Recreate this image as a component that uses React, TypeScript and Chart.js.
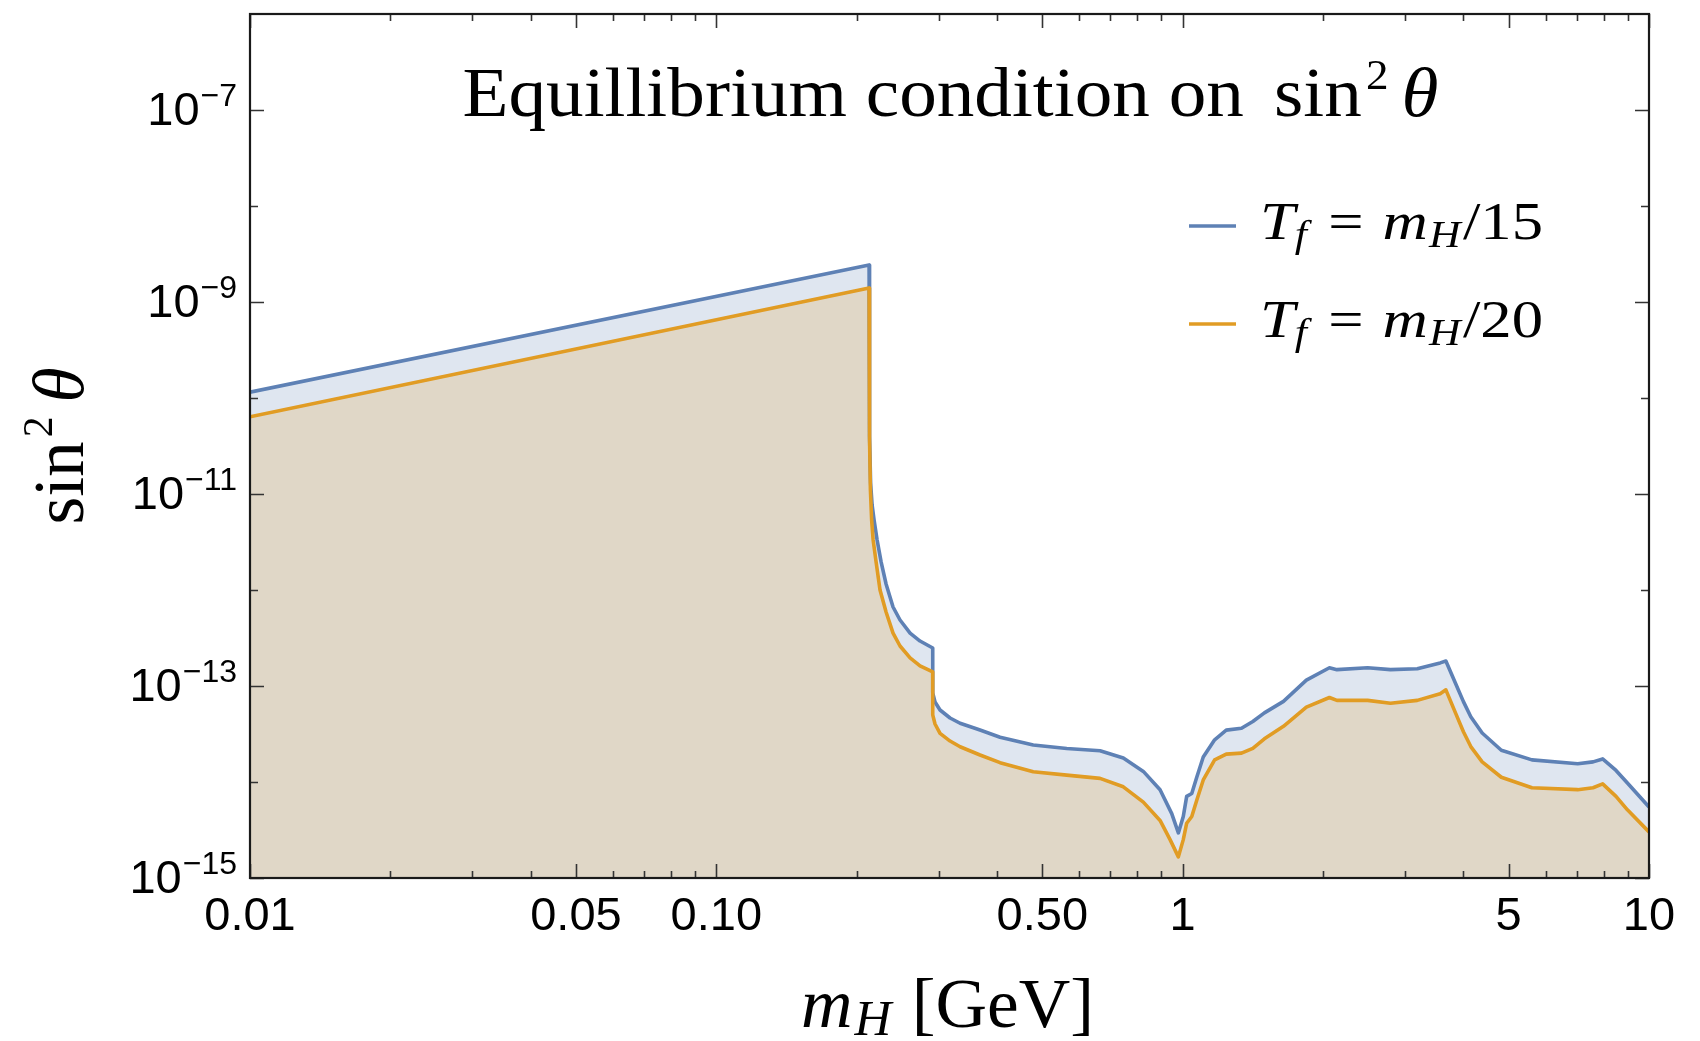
import React, { useEffect, useRef } from 'react';
import { Chart, registerables } from 'chart.js';

Chart.register(...registerables);

// ---------- data ----------
const massBlue = [0.01, 0.2126, 0.2131, 0.2142, 0.2158, 0.2179, 0.2212, 0.2256, 0.2312, 0.2393, 0.2477, 0.2603, 0.2734, 0.2911, 0.2911, 0.2944, 0.3018, 0.3171, 0.3332, 0.3677, 0.4059, 0.4782, 0.5641, 0.665, 0.746, 0.8235, 0.8944, 0.9475, 0.979, 1.003, 1.02, 1.046, 1.072, 1.107, 1.171, 1.24, 1.337, 1.414, 1.497, 1.645, 1.842, 2.064, 2.142, 2.492, 2.79, 3.185, 3.566, 3.668, 3.846, 4.0, 4.148, 4.388, 4.823, 5.61, 7.032, 7.586, 7.954, 8.497, 8.989, 10];
const sinBlue = [1.15e-10, 2.43e-9, 4.0e-11, 1.3e-11, 7.68e-12, 5.36e-12, 3.32e-12, 1.96e-12, 1.155e-12, 6.65e-13, 4.87e-13, 3.56e-13, 2.94e-13, 2.49e-13, 8.45e-14, 6.81e-14, 5.62e-14, 4.64e-14, 4.09e-14, 3.48e-14, 2.93e-14, 2.43e-14, 2.23e-14, 2.12e-14, 1.78e-14, 1.29e-14, 8.32e-15, 4.68e-15, 2.95e-15, 4.37e-15, 7.08e-15, 7.59e-15, 1.12e-14, 1.82e-14, 2.75e-14, 3.47e-14, 3.63e-14, 4.27e-14, 5.25e-14, 6.92e-14, 1.15e-13, 1.55e-13, 1.48e-13, 1.55e-13, 1.48e-13, 1.51e-13, 1.74e-13, 1.82e-13, 1.07e-13, 6.87e-14, 4.79e-14, 3.24e-14, 2.14e-14, 1.7e-14, 1.55e-14, 1.62e-14, 1.74e-14, 1.32e-14, 9.77e-15, 5.5e-15];

const massOrange = [0.01, 0.2126, 0.2131, 0.214, 0.2153, 0.2169, 0.2201, 0.2244, 0.2312, 0.2393, 0.2477, 0.2603, 0.2734, 0.2911, 0.2911, 0.2944, 0.3018, 0.3171, 0.3332, 0.3677, 0.4059, 0.4782, 0.5641, 0.665, 0.746, 0.8235, 0.8944, 0.9397, 0.979, 1.003, 1.02, 1.046, 1.072, 1.107, 1.171, 1.24, 1.337, 1.414, 1.497, 1.645, 1.842, 2.064, 2.142, 2.492, 2.79, 3.185, 3.566, 3.668, 3.846, 4.0, 4.148, 4.388, 4.823, 5.61, 7.032, 7.586, 7.954, 8.497, 8.989, 10];
const sinOrange = [6.38e-11, 1.4e-9, 3.65e-11, 1.1e-11, 5.36e-12, 3.32e-12, 1.96e-12, 1.0e-12, 5.9e-13, 3.56e-13, 2.61e-13, 1.96e-13, 1.62e-13, 1.4e-13, 5.0e-14, 4.02e-14, 3.21e-14, 2.67e-14, 2.33e-14, 1.91e-14, 1.59e-14, 1.28e-14, 1.18e-14, 1.09e-14, 8.91e-15, 6.17e-15, 3.98e-15, 2.51e-15, 1.66e-15, 2.51e-15, 3.72e-15, 4.37e-15, 6.46e-15, 1.05e-14, 1.7e-14, 1.95e-14, 2.0e-14, 2.24e-14, 2.82e-14, 3.8e-14, 6.03e-14, 7.59e-14, 7.08e-14, 7.08e-14, 6.61e-14, 7.08e-14, 8.32e-14, 9.12e-14, 5.25e-14, 3.34e-14, 2.34e-14, 1.62e-14, 1.12e-14, 8.71e-15, 8.32e-15, 8.71e-15, 9.55e-15, 7.08e-15, 5.13e-15, 3.02e-15];

const seriesDivisors = ['15', '20'];
const xMajorTicks = [0.01, 0.05, 0.1, 0.5, 1, 5, 10];
const xMajorLabels = ['0.01', '0.05', '0.10', '0.50', '1', '5', '10'];
const xMinorTicks = [0.02, 0.03, 0.04, 0.06, 0.07, 0.08, 0.09, 0.2, 0.3, 0.4, 0.6, 0.7, 0.8, 0.9, 2, 3, 4, 6, 7, 8, 9];
const yMajorExponents = [-15, -13, -11, -9, -7];
const yMinorExponents = [-14, -12, -10, -8];

const BLUE = '#5E81B5';
const ORANGE = '#E19C24';
const SERIF = '"Liberation Serif", "DejaVu Serif", serif';
const SANS = '"Liberation Sans", Arial, sans-serif';

type Run = { text: string; font: string; dy?: number; dx?: number };

function runsWidth(ctx: CanvasRenderingContext2D, runs: Run[]) {
  let w = 0;
  for (const r of runs) {
    ctx.font = r.font;
    w += (r.dx || 0) + ctx.measureText(r.text).width;
  }
  return w;
}

function drawRuns(
  ctx: CanvasRenderingContext2D,
  runs: Run[],
  x: number,
  y: number,
  align: 'left' | 'center' | 'right',
  targetWidth?: number
) {
  const raw = runsWidth(ctx, runs);
  const sx = targetWidth ? targetWidth / raw : 1;
  const w = raw * sx;
  const start = align === 'left' ? x : align === 'center' ? x - w / 2 : x - w;
  ctx.save();
  ctx.translate(start, y);
  ctx.scale(sx, 1);
  ctx.textAlign = 'left';
  ctx.textBaseline = 'alphabetic';
  let px = 0;
  for (const r of runs) {
    ctx.font = r.font;
    px += r.dx || 0;
    ctx.fillText(r.text, px, r.dy || 0);
    px += ctx.measureText(r.text).width;
  }
  ctx.restore();
}

const decorPlugin = {
  id: 'decor',
  afterDraw(chart: any) {
    const ctx: CanvasRenderingContext2D = chart.ctx;
    const xs = chart.scales.x;
    const ys = chart.scales.y;
    const { left, right, top, bottom } = chart.chartArea;
    ctx.save();
    ctx.fillStyle = '#000';

    // ticks
    ctx.strokeStyle = '#333';
    ctx.lineWidth = 1.6;
    const vtick = (v: number, len: number) => {
      const p = Math.round(xs.getPixelForValue(v)) + 0.5;
      ctx.beginPath();
      ctx.moveTo(p, bottom);
      ctx.lineTo(p, bottom - len);
      ctx.moveTo(p, top);
      ctx.lineTo(p, top + len);
      ctx.stroke();
    };
    xMajorTicks.forEach((v) => vtick(v, 14));
    xMinorTicks.forEach((v) => vtick(v, 7));
    const htick = (e: number, len: number) => {
      const p = Math.round(ys.getPixelForValue(Math.pow(10, e))) + 0.5;
      ctx.beginPath();
      ctx.moveTo(left, p);
      ctx.lineTo(left + len, p);
      ctx.moveTo(right, p);
      ctx.lineTo(right - len, p);
      ctx.stroke();
    };
    yMajorExponents.forEach((e) => htick(e, 14));
    yMinorExponents.forEach((e) => htick(e, 8));

    // frame
    ctx.strokeStyle = '#1a1a1a';
    ctx.lineWidth = 2.2;
    ctx.strokeRect(left, top, right - left, bottom - top);

    // x tick labels
    ctx.fillStyle = '#000';
    ctx.font = `47px ${SANS}`;
    ctx.textAlign = 'center';
    ctx.textBaseline = 'alphabetic';
    xMajorTicks.forEach((v, i) => {
      ctx.fillText(xMajorLabels[i], xs.getPixelForValue(v), bottom + 52);
    });

    // y tick labels
    yMajorExponents.forEach((e) => {
      const p = ys.getPixelForValue(Math.pow(10, e));
      ctx.font = `47px ${SANS}`;
      const w1 = ctx.measureText('10').width;
      ctx.font = `32px ${SANS}`;
      const sup = '\u2212' + String(-e);
      const w2 = ctx.measureText(sup).width;
      const x0 = left - 14 - w1 - w2;
      ctx.textAlign = 'left';
      ctx.font = `47px ${SANS}`;
      ctx.fillText('10', x0, p + 15);
      ctx.font = `32px ${SANS}`;
      ctx.fillText(sup, x0 + w1 + 1, p - 4);
    });

    // title
    const cx = (left + right) / 2;
    drawRuns(
      ctx,
      [
        { text: 'Equillibrium condition on', font: `70px ${SERIF}` },
        { text: 'sin', font: `70px ${SERIF}`, dx: 28 },
        { text: '2', font: `42px ${SERIF}`, dy: -27, dx: 4 },
        { text: '\u03B8', font: `italic 70px ${SERIF}`, dx: 12 },
      ],
      cx + 1,
      116,
      'center',
      976
    );

    // x axis label
    drawRuns(
      ctx,
      [
        { text: 'm', font: `italic 70px ${SERIF}` },
        { text: 'H', font: `italic 50px ${SERIF}`, dy: 8, dx: 2 },
        { text: '[GeV]', font: `70px ${SERIF}`, dx: 20 },
      ],
      cx - 2,
      1027,
      'center',
      293
    );

    // y axis label (rotated)
    ctx.save();
    ctx.translate(83, 446);
    ctx.rotate(-Math.PI / 2);
    drawRuns(
      ctx,
      [
        { text: 'sin', font: `72px ${SERIF}` },
        { text: '2', font: `42px ${SERIF}`, dy: -31, dx: 4 },
        { text: '\u03B8', font: `italic 72px ${SERIF}`, dx: 14 },
      ],
      0,
      0,
      'center',
      157
    );
    ctx.restore();

    // legend
    const colors = [BLUE, ORANGE];
    const lineY = [226, 324];
    colors.forEach((c, i) => {
      ctx.strokeStyle = c;
      ctx.lineWidth = 3.4;
      ctx.beginPath();
      ctx.moveTo(1189, lineY[i]);
      ctx.lineTo(1236, lineY[i]);
      ctx.stroke();
      ctx.fillStyle = '#000';
      drawRuns(
        ctx,
        [
          { text: 'T', font: `italic 53px ${SERIF}` },
          { text: 'f', font: `italic 37px ${SERIF}`, dy: 8, dx: 0 },
          { text: '=', font: `53px ${SERIF}`, dx: 18 },
          { text: 'm', font: `italic 53px ${SERIF}`, dx: 16 },
          { text: 'H', font: `italic 37px ${SERIF}`, dy: 8, dx: 1 },
          { text: '/' + seriesDivisors[i], font: `53px ${SERIF}`, dx: 2 },
        ],
        1260,
        lineY[i] + 13,
        'left',
        283
      );
    });

    ctx.restore();
  },
};

export default function App() {
  const ref = useRef<HTMLCanvasElement>(null);

  useEffect(() => {
    if (!ref.current) return;
    const toPts = (xs: number[], ys: number[]) => xs.map((x, i) => ({ x, y: ys[i] }));
    const chart = new Chart(ref.current, {
      type: 'line',
      data: {
        datasets: [
          {
            label: 'T_f = m_H/15',
            data: toPts(massBlue, sinBlue),
            borderColor: BLUE,
            backgroundColor: 'rgba(94,129,181,0.2)',
            borderWidth: 3.6,
            pointRadius: 0,
            fill: 'start',
            tension: 0,
            borderJoinStyle: 'round',
            order: 2,
          },
          {
            label: 'T_f = m_H/20',
            data: toPts(massOrange, sinOrange),
            borderColor: ORANGE,
            backgroundColor: 'rgba(225,156,36,0.2)',
            borderWidth: 3.6,
            pointRadius: 0,
            fill: 'start',
            tension: 0,
            borderJoinStyle: 'round',
            order: 1,
          },
        ],
      },
      options: {
        responsive: false,
        devicePixelRatio: 1,
        animation: false,
        layout: { padding: { left: 250, right: 51, top: 14, bottom: 163 } },
        scales: {
          x: { type: 'logarithmic', min: 0.01, max: 10, display: false },
          y: { type: 'logarithmic', min: 1e-15, max: 1e-6, display: false },
        },
        plugins: {
          legend: { display: false },
          tooltip: { enabled: false },
          filler: { propagate: false, drawTime: 'beforeDatasetsDraw' },
        },
      } as any,
      plugins: [decorPlugin],
    });
    return () => chart.destroy();
  }, []);

  return (
    <div style={{ position: 'absolute', left: 0, top: 0, width: 1700, height: 1041, background: '#fff' }}>
      <canvas ref={ref} width={1700} height={1041} style={{ display: 'block', width: 1700, height: 1041 }} />
    </div>
  );
}
